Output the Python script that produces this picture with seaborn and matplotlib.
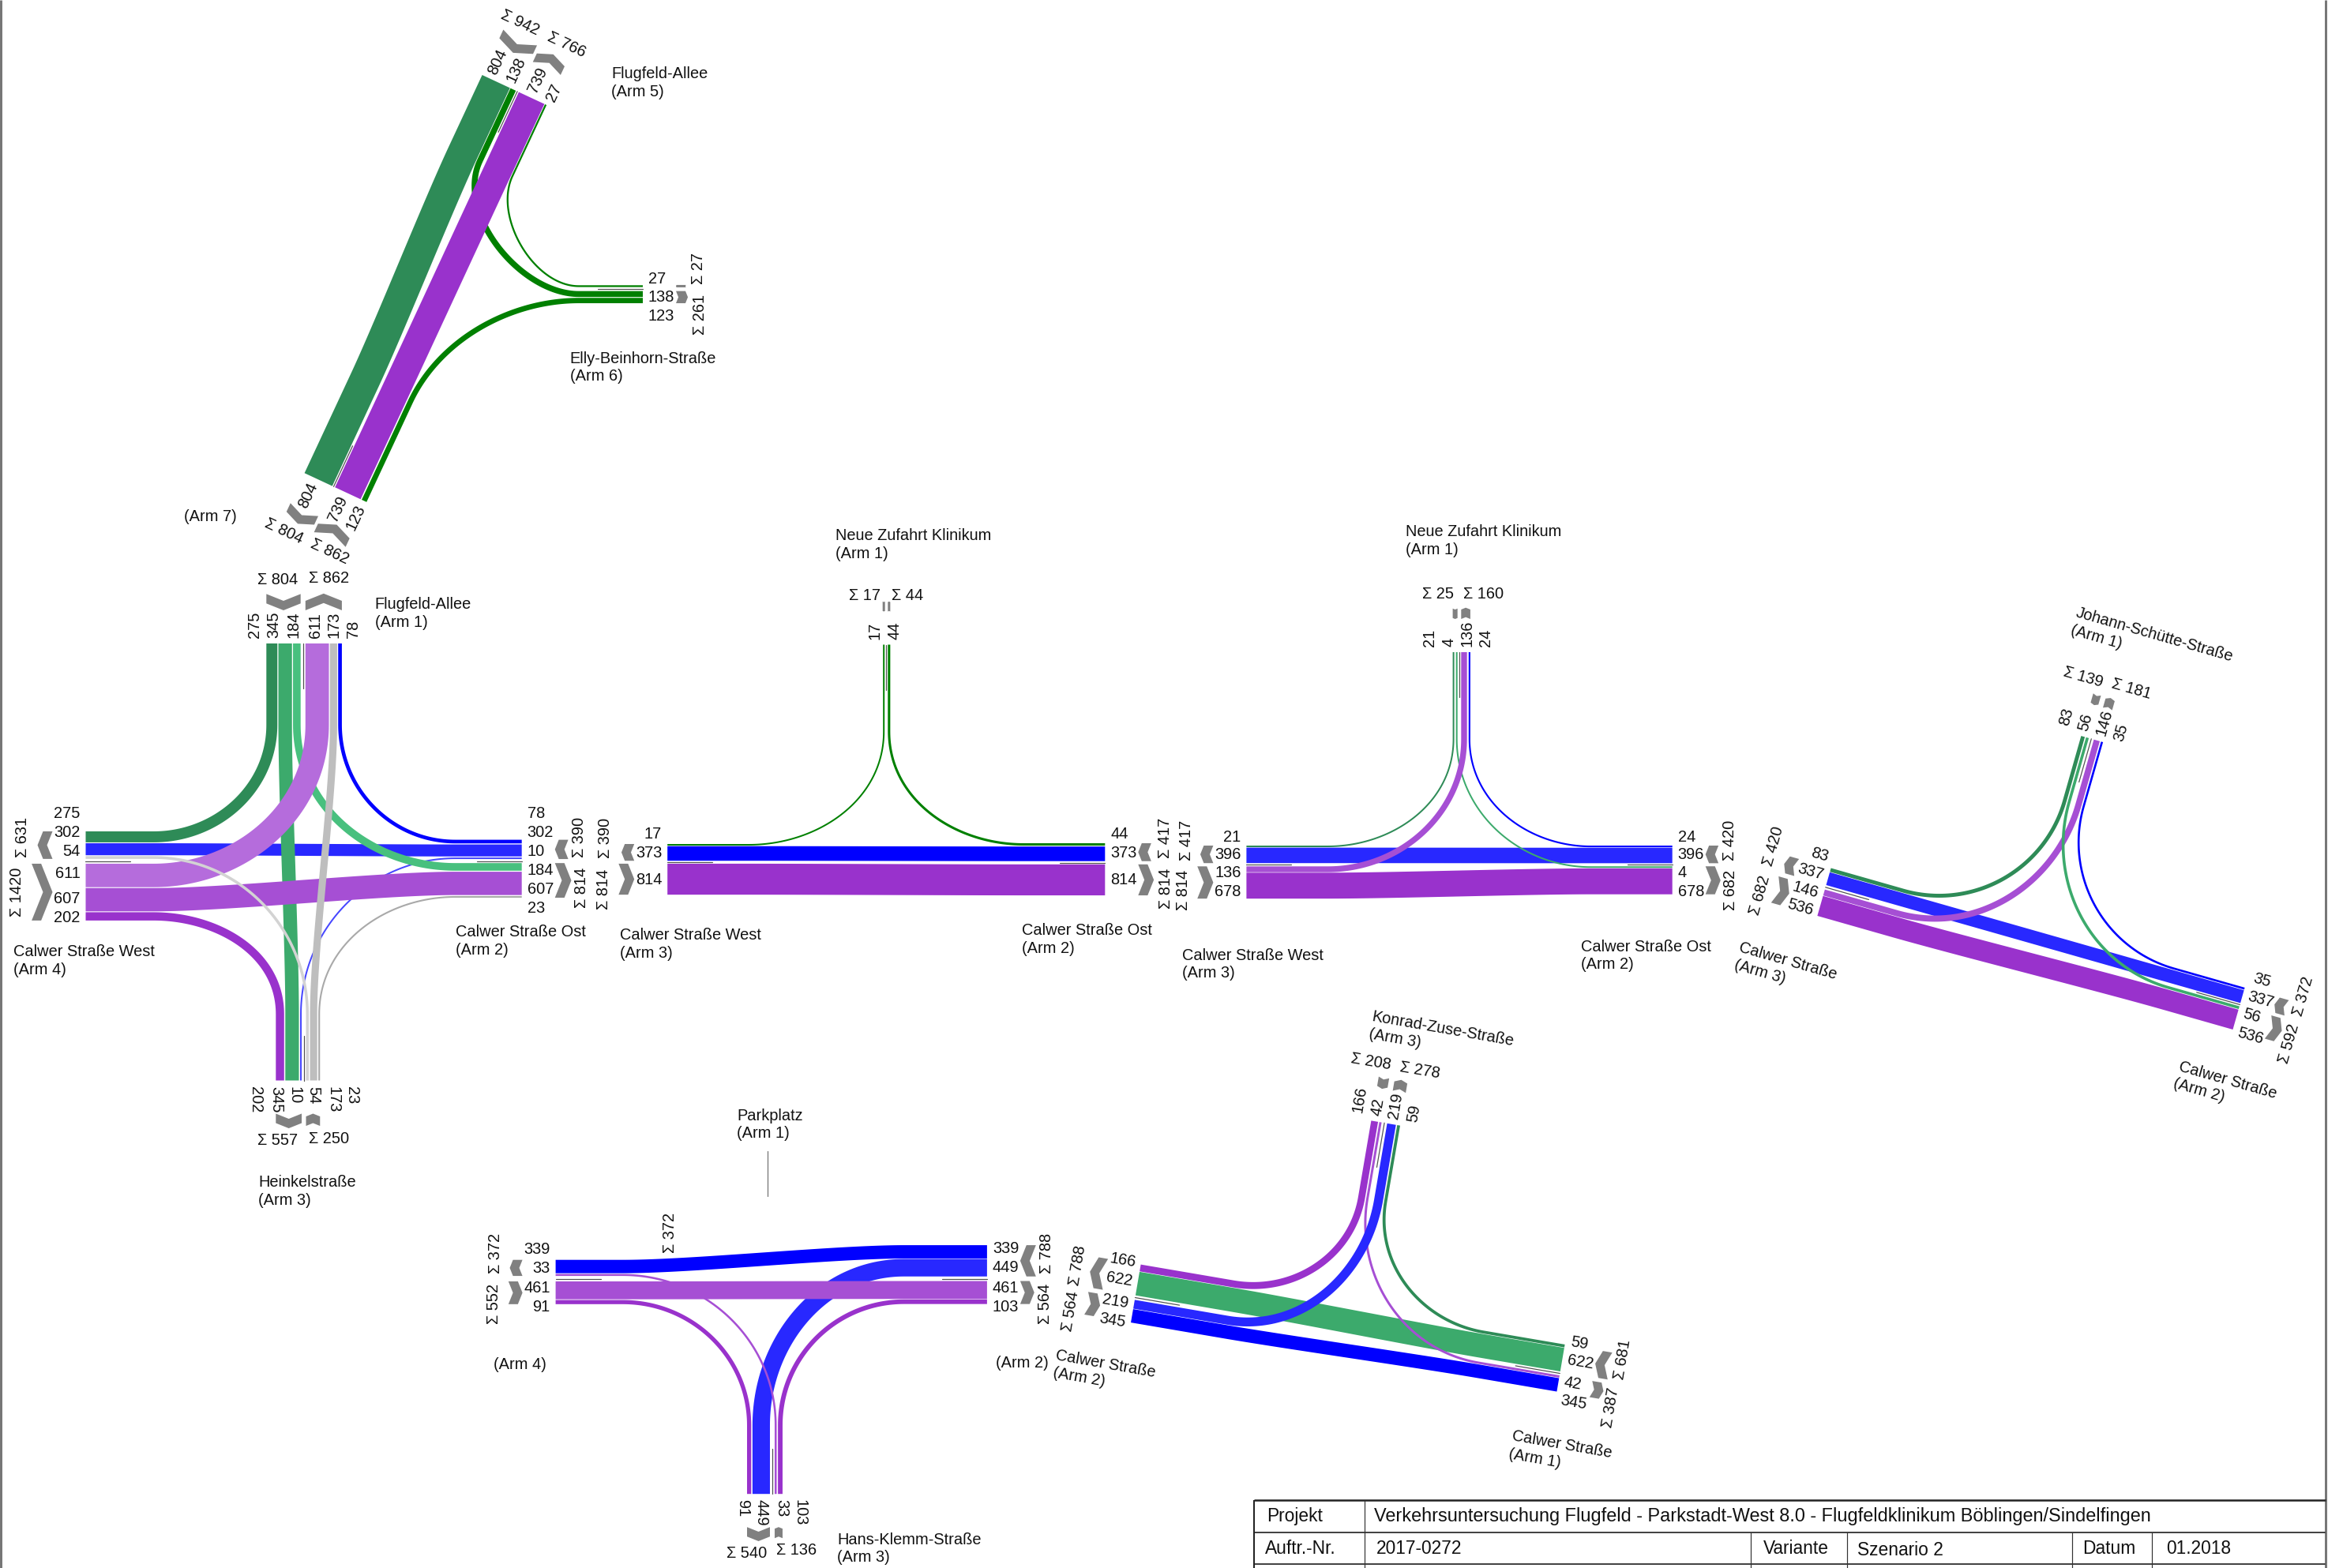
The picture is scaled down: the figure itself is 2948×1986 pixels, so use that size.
import numpy as np
import matplotlib
matplotlib.use("Agg")
import matplotlib.pyplot as plt
import seaborn as sns

sns.set_theme(style="white")
plt.rcParams["font.family"] = ["Liberation Sans", "DejaVu Sans"]

# verkehrsmengen je arm, in der reihenfolge quer zur fahrbahn
A_TOP = [275, 345, 184, 611, 173, 78]
A_RIGHT = [78, 302, 10, 184, 607, 23]
A_BOTTOM = [202, 345, 10, 54, 173, 23]
A_LEFT = [275, 302, 54, 611, 607, 202]
T_ARM5 = [804, 138, 739, 27]
T_ARM6 = [27, 138, 123]
T_ARM7 = [804, 739, 123]
B_LEFT = [17, 373, 814]
B_RIGHT = [44, 373, 814]
B_TOP = [17, 44]
C_LEFT = [21, 396, 136, 678]
C_RIGHT = [24, 396, 4, 678]
C_TOP = [21, 4, 136, 24]
D_LEFT = [83, 337, 146, 536]
D_RIGHT = [35, 337, 56, 536]
D_TOP = [83, 56, 146, 35]
E_LEFT = [166, 622, 219, 345]
E_RIGHT = [59, 622, 42, 345]
E_TOP = [166, 42, 219, 59]
F_LEFT = [339, 33, 461, 91]
F_RIGHT = [339, 449, 461, 103]
F_BOTTOM = [91, 449, 33, 103]

BLUE = "#0000FF"
BLUE2 = "#2828FF"
BLUE3 = "#4646FF"
SEA = "#2E8B57"
GREEN = "#008000"
GREEN2 = "#3CAA6C"
GREEN3 = "#48C07E"
ORCHID = "#9932CC"
MPURP = "#A64FD4"
LPURP = "#B56CDC"
SILVER = "#BEBEBE"
LGRAY = "#D3D3D3"
GRAY = "#A9A9A9"
CHEV = "#808080"

DPI = 200
S = 0.047
FS = 7.2


def px(w):
    return w * 72 / DPI


fig = plt.figure(figsize=(2948 / DPI, 1986 / DPI), dpi=DPI)
ax = fig.add_axes([0, 0, 1, 1])
ax.set_xlim(0, 2948)
ax.set_ylim(1986, 0)
ax.axis("off")


def width(v):
    return max(v * S + 1.0, 2.0)


def make_arm(x, y, theta, side, values, split, g, m, stub, labs, ld=7):
    n = np.array([np.cos(np.radians(theta)), np.sin(np.radians(theta))])
    d = side * np.array([n[1], -n[0]])
    pos = 0
    centers, edges = [], []
    for i, v in enumerate(values):
        w = width(v)
        centers.append(pos + w / 2)
        edges.append((pos, pos + w))
        pos += w
        if i == split - 1:
            pos += max(m - 0.9, 2)
        else:
            pos += max(g - 0.9, 0.6)
    arm = dict(p=np.array([x, y], float), n=n, d=d, side=side, values=values,
               split=split, centers=centers, edges=edges, stub=stub, m=m)
    # zahlen am armende
    o = -d
    ang = np.degrees(np.arctan2(-o[1], o[0]))
    for v, t in zip(values, labs):
        q = arm["p"] + t * n + ld * o
        if abs(ang) > 100:
            rot, ha = (ang - 180 if ang > 0 else ang + 180), "right"
        else:
            rot, ha = ang, "left"
        ax.text(q[0], q[1], str(v), fontsize=FS, rotation=rot, ha=ha, va="center",
                rotation_mode="anchor", color="#111111")
    return arm


def lane(arm, i):
    return arm["p"] + arm["centers"][i] * arm["n"]


def flow(a, i, b, j, color, k=0.39):
    # stummel, bezier, stummel
    p0 = lane(a, i)
    p3 = lane(b, j)
    s0 = p0 + a["stub"] * a["d"]
    s1 = p3 + b["stub"] * b["d"]
    c = np.linalg.norm(s1 - s0)
    if np.dot(a["d"], b["d"]) < -0.9:
        k = 0.25
    c0 = s0 + k * c * a["d"]
    c1 = s1 + k * c * b["d"]
    t = np.linspace(0, 1, 70)[:, None]
    curve = (1 - t) ** 3 * s0 + 3 * (1 - t) ** 2 * t * c0 + 3 * (1 - t) * t ** 2 * c1 + t ** 3 * s1
    pts = np.vstack([p0, curve, p3])
    sns.lineplot(x=pts[:, 0], y=pts[:, 1], sort=False, estimator=None, color=color,
                 linewidth=px(width(a["values"][i])), ax=ax, legend=False,
                 solid_capstyle="butt", solid_joinstyle="round")


def chevrons(arm):
    n, o, p = arm["n"], -arm["d"], arm["p"]
    sp = arm["split"]
    halves = [(arm["edges"][0][0], arm["edges"][sp - 1][1], arm["side"] > 0),
              (arm["edges"][sp][0], arm["edges"][-1][1], arm["side"] < 0)]
    for a, b, out in halves:
        if b - a < 3:
            a, b = (a + b) / 2 - 1.5, (a + b) / 2 + 1.5
        depth = 0.2 * (b - a)
        mid = (a + b) / 2
        ue, um = (42, 42 + depth) if out else (42 + depth, 42)
        shape = [(a, ue), (mid, um), (b, ue), (b, ue + 12), (mid, um + 12), (a, ue + 12)]
        poly = np.array([p + s * n + u * o for s, u in shape])
        ax.fill(poly[:, 0], poly[:, 1], color=CHEV, lw=0, zorder=2)
    # mittellinie
    c = (arm["edges"][sp - 1][1] + arm["edges"][sp][0]) / 2
    l0 = p + c * n
    l1 = l0 + 57 * arm["d"]
    sns.lineplot(x=[l0[0], l1[0]], y=[l0[1], l1[1]], sort=False, estimator=None,
                 color="#505050", linewidth=px(1.2), ax=ax, legend=False)


# knoten A: flugfeld-allee / calwer strasse
a_top = make_arm(337.3, 815, 0, -1, A_TOP, 3, 2.2, 7, 103, [-14.3, 9.7, 34.7, 62.2, 85.7, 110.7])
a_right = make_arm(660.7, 1063.6, 90, -1, A_RIGHT, 3, 2.2, 6, 84, [-33.6, -9.6, 15.4, 38.4, 62.4, 87.4])
a_bottom = make_arm(349.3, 1368.5, 0, 1, A_BOTTOM, 3, 2.4, 6.4, 84, [-25.3, 0.7, 23.7, 47.7, 72.7, 96.7])
a_left = make_arm(108.5, 1053, 90, 1, A_LEFT, 3, 2, 7, 86, [-23, 1, 26, 54, 85, 109])
flow(a_left, 1, a_right, 1, BLUE2)
flow(a_right, 2, a_bottom, 2, BLUE3)
flow(a_top, 1, a_bottom, 1, GREEN2)
flow(a_top, 2, a_right, 3, GREEN3)
flow(a_top, 5, a_right, 0, BLUE)
flow(a_top, 0, a_left, 0, SEA)
flow(a_right, 5, a_bottom, 5, GRAY)
flow(a_left, 5, a_bottom, 0, ORCHID)
flow(a_left, 3, a_top, 3, LPURP)
flow(a_left, 4, a_right, 4, MPURP)
flow(a_left, 2, a_bottom, 3, LGRAY)
flow(a_top, 4, a_bottom, 4, SILVER)

# knoten T: elly-beinhorn-strasse
t_5 = make_arm(610.6, 95, 25, -1, T_ARM5, 2, 1.7, 5, 100, [11, 36, 67, 92])
t_6 = make_arm(814, 361.3, 90, -1, T_ARM6, 1, 2, 6, 81, [-7.8, 15.2, 39.1])
t_7 = make_arm(385.6, 599.2, 25, 1, T_ARM7, 1, 2.5, 4.7, 138, [16.7, 57.6, 82.6])
flow(t_5, 1, t_6, 1, GREEN, 0.35)
flow(t_5, 3, t_6, 0, GREEN, 0.35)
flow(t_7, 2, t_6, 2, GREEN, 0.35)
flow(t_5, 0, t_7, 0, SEA)
flow(t_7, 1, t_5, 2, ORCHID)

# knoten B: neue zufahrt klinikum
b_left = make_arm(845.2, 1069, 90, 1, B_LEFT, 2, 1.6, 4.6, 103, [-12.6, 11.5, 45.2])
b_right = make_arm(1399.3, 1068, 90, -1, B_RIGHT, 2, 2, 5, 103, [-11.6, 12.5, 46.2])
b_top = make_arm(1118.2, 816.5, 0, -1, B_TOP, 1, 2, 5, 110, [-9.7, 14.8])
flow(b_left, 0, b_top, 0, GREEN)
flow(b_top, 1, b_right, 0, GREEN)
flow(b_left, 1, b_right, 1, BLUE)
flow(b_left, 2, b_right, 2, ORCHID)

# knoten C: neue zufahrt klinikum
c_left = make_arm(1578.4, 1071, 90, 1, C_LEFT, 2, 1.4, 5, 103, [-11, 11.8, 34.4, 58.5])
c_right = make_arm(2117.7, 1071, 90, -1, C_RIGHT, 2, 1.2, 4.8, 103, [-11, 11.8, 34.4, 58.5])
c_top = make_arm(1839.6, 826, 0, -1, C_TOP, 2, 3, 5.5, 110, [-28.6, -4.6, 18.4, 41.8])
flow(c_left, 1, c_right, 1, BLUE2)
flow(c_top, 1, c_right, 2, GREEN2)
flow(c_left, 0, c_top, 0, SEA)
flow(c_top, 3, c_right, 0, BLUE)
flow(c_left, 2, c_top, 2, MPURP)
flow(c_left, 3, c_right, 3, ORCHID)

# knoten D: johann-schuette-strasse
d_left = make_arm(2318.6, 1099.5, 105.9, 1, D_LEFT, 2, 1.5, 6.8, 96, [-12.1, 12.1, 35.4, 58.9])
d_right = make_arm(2842.6, 1250.9, 105.9, -1, D_RIGHT, 2, 1.7, 5.2, 93, [-14.9, 9.1, 32.6, 56.6])
d_top = make_arm(2635.4, 932.1, 15.9, -1, D_TOP, 2, 2.5, 7.5, 85, [-23.9, 0.2, 23.6, 47.4])
flow(d_left, 1, d_right, 1, BLUE2)
flow(d_left, 3, d_right, 3, ORCHID)
flow(d_left, 0, d_top, 0, SEA)
flow(d_left, 2, d_top, 2, MPURP)
flow(d_top, 1, d_right, 2, GREEN2)
flow(d_top, 3, d_right, 0, BLUE)

# knoten E: konrad-zuse-strasse
e_left = make_arm(1444.6, 1601.6, 99.7, 1, E_LEFT, 2, 1.5, 6.7, 120, [-1, 23, 51.7, 75.8])
e_right = make_arm(1981.6, 1702.9, 99.7, -1, E_RIGHT, 2, 1.5, 6, 104, [-5, 18.4, 47.4, 70.6])
e_top = make_arm(1736.4, 1419.4, 9.7, -1, E_TOP, 2, 2.5, 8, 98, [-19, 5.5, 27, 51.7])
flow(e_left, 1, e_right, 1, GREEN2)
flow(e_left, 3, e_right, 3, BLUE)
flow(e_left, 0, e_top, 0, ORCHID)
flow(e_top, 3, e_right, 0, SEA)
flow(e_top, 1, e_right, 2, MPURP)
flow(e_left, 2, e_top, 2, BLUE2)

# knoten F: hans-klemm-strasse
f_left = make_arm(703.6, 1595.7, 90, 1, F_LEFT, 2, 1.8, 7.8, 85, [-13.5, 10.4, 35.6, 59.9])
f_right = make_arm(1249.9, 1577.1, 90, -1, F_RIGHT, 2, 1.5, 6.7, 105, [4.3, 28.6, 54.2, 78.5])
f_bottom = make_arm(946, 1892.2, 0, 1, F_BOTTOM, 2, 2.5, 6.9, 87, [-5.8, 18.4, 43.6, 66.9])
flow(f_right, 1, f_bottom, 1, BLUE2)
flow(f_left, 1, f_bottom, 2, MPURP)
flow(f_left, 0, f_right, 0, BLUE)
flow(f_left, 3, f_bottom, 0, ORCHID)
flow(f_right, 3, f_bottom, 3, ORCHID)
flow(f_left, 2, f_right, 2, MPURP)

for arm in [a_top, a_right, a_bottom, a_left, t_5, t_6, t_7, b_left, b_right, b_top,
            c_left, c_right, c_top, d_left, d_right, d_top, e_left, e_right, e_top,
            f_left, f_right, f_bottom]:
    chevrons(arm)

# summen
SIGMAS = [
    ("Σ 804", 352, 735, 0), ("Σ 862", 417, 733, 0), ("Σ 557", 352, 1444, 0), ("Σ 250", 417, 1442, 0),
    ("Σ 631", 29, 1060, 90), ("Σ 1420", 22, 1130, 90), ("Σ 390", 734, 1060, 90), ("Σ 814", 737, 1124, 90),
    ("Σ 390", 767, 1061, 90), ("Σ 814", 765, 1126, 90),
    ("Σ 942", 659, 28.5, -25), ("Σ 766", 717.7, 56.5, -25), ("Σ 804", 360, 672.6, -25), ("Σ 862", 417, 698.8, -25),
    ("Σ 27", 884.4, 339.8, 90), ("Σ 261", 886.9, 398.5, 90),
    ("Σ 17", 1095, 754, 0), ("Σ 44", 1148.8, 754, 0), ("Σ 417", 1475.3, 1061, 90), ("Σ 814", 1476.8, 1125.5, 90),
    ("Σ 417", 1503, 1064, 90), ("Σ 814", 1499, 1127, 90), ("Σ 25", 1821, 753, 0), ("Σ 160", 1878.4, 752.6, 0),
    ("Σ 420", 2190.6, 1064, 90), ("Σ 682", 2191.6, 1127, 90),
    ("Σ 139", 2637.9, 857.5, -16), ("Σ 181", 2699, 872.7, -16), ("Σ 420", 2246, 1071.8, 74), ("Σ 682", 2229, 1133.8, 74),
    ("Σ 372", 2917, 1261.7, 74), ("Σ 592", 2899, 1322.4, 74),
    ("Σ 208", 1736.4, 1345, -9.5), ("Σ 278", 1798.4, 1356, -9.5), ("Σ 788", 1365, 1603, 80.5), ("Σ 564", 1356.3, 1661.3, 80.5),
    ("Σ 681", 2054.6, 1721.4, 80.5), ("Σ 387", 2039.8, 1782.7, 80.5),
    ("Σ 372", 627.5, 1587.6, 90), ("Σ 552", 626, 1651.4, 90), ("Σ 372", 849, 1561, 90),
    ("Σ 788", 1325.5, 1587.6, 90), ("Σ 564", 1324, 1651.4, 90), ("Σ 540", 946, 1967.6, 0), ("Σ 136", 1009, 1963.7, 0),
]
for s, x, y, r in SIGMAS:
    ax.text(x, y, s, fontsize=FS, rotation=r, ha="center", va="center", rotation_mode="anchor", color="#111111")

# strassennamen
STREETS = [
    ("Flugfeld-Allee\n(Arm 5)", 774.4, 105, 0), ("Elly-Beinhorn-Straße\n(Arm 6)", 721.6, 465.5, 0), ("(Arm 7)", 233, 654.3, 0),
    ("Flugfeld-Allee\n(Arm 1)", 474.6, 777, 0), ("Calwer Straße West\n(Arm 4)", 17, 1217, 0),
    ("Calwer Straße Ost\n(Arm 2)", 576.6, 1192, 0), ("Heinkelstraße\n(Arm 3)", 327, 1509, 0),
    ("Neue Zufahrt Klinikum\n(Arm 1)", 1058, 690, 0), ("Calwer Straße West\n(Arm 3)", 785.5, 1196, 0),
    ("Calwer Straße Ost\n(Arm 2)", 1294, 1190, 0), ("Neue Zufahrt Klinikum\n(Arm 1)", 1780, 685, 0),
    ("Calwer Straße West\n(Arm 3)", 1496.7, 1221.5, 0), ("Calwer Straße Ost\n(Arm 2)", 2002.4, 1210.5, 0),
    ("Johann-Schütte-Straße\n(Arm 1)", 2625.6, 786.9, -16), ("Calwer Straße\n(Arm 3)", 2199.6, 1210.5, -16),
    ("Calwer Straße\n(Arm 2)", 2756, 1361.4, -16), ("Konrad-Zuse-Straße\n(Arm 3)", 1735.3, 1298.4, -10),
    ("Calwer Straße\n(Arm 2)", 1335.4, 1727.4, -10), ("Calwer Straße\n(Arm 1)", 1912.5, 1830.2, -10),
    ("Parkplatz\n(Arm 1)", 932.9, 1424.5, 0), ("(Arm 4)", 625, 1729, 0), ("(Arm 2)", 1261, 1726.7, 0),
    ("Hans-Klemm-Straße\n(Arm 3)", 1059.9, 1961.5, 0),
]
for s, x, y, r in STREETS:
    ax.text(x, y, s, fontsize=FS, rotation=r, ha="left", va="center", rotation_mode="anchor",
            linespacing=1.25, color="#111111")

# parkplatz-arm ohne verkehr
sns.lineplot(x=[971.7, 971.7], y=[1458, 1514.5], sort=False, estimator=None, color="#707070",
             linewidth=px(1.2), ax=ax, legend=False)

# seitenrand
ax.vlines([1.5, 2945.5], 0, 1986, color="#777777", lw=px(3))

# schriftfeld
ax.hlines(1900, 1588, 2945, color="#222222", lw=px(2.5))
ax.hlines([1941, 1981], 1588, 2945, color="#444444", lw=px(2))
ax.vlines(1588, 1900, 1986, color="#222222", lw=px(2))
ax.vlines(1728, 1900, 1986, color="#333333", lw=px(1.2))
ax.vlines([2217.5, 2338.8, 2623.7, 2724.6], 1941, 1986, color="#333333", lw=px(1.2))
CELLS = [
    ("Projekt", 1604, 1921, 8.2),
    ("Verkehrsuntersuchung Flugfeld - Parkstadt-West 8.0 - Flugfeldklinikum Böblingen/Sindelfingen", 1739.6, 1921, 8.45),
    ("Auftr.-Nr.", 1601.6, 1961, 8.2), ("2017-0272", 1743, 1961, 8.2), ("Variante", 2232.6, 1961, 8.2),
    ("Szenario 2", 2352, 1963, 8.2), ("Datum", 2637, 1961, 8.2), ("01.2018", 2743, 1961, 8.2),
]
for s, x, y, fs in CELLS:
    ax.text(x, y, s, fontsize=fs, ha="left", va="center", color="#111111")

ax.set_xlim(0, 2948)
ax.set_ylim(1986, 0)
fig.savefig("out.png", dpi=DPI, facecolor="white")
